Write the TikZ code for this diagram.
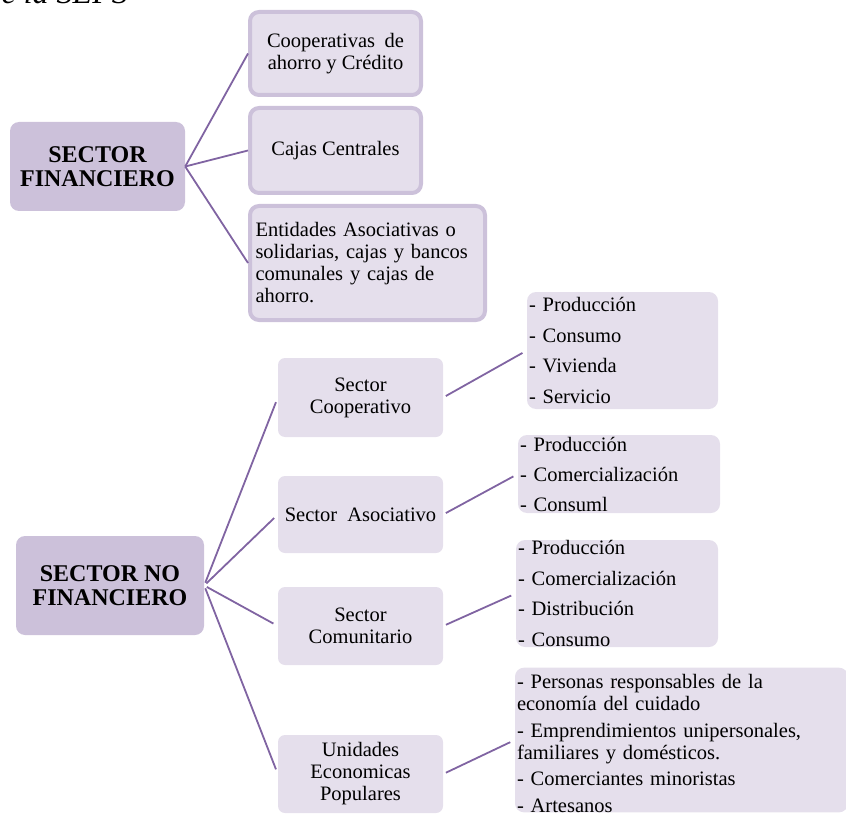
\documentclass[tikz,border=0pt]{standalone}
\usepackage{fontspec}
\setmainfont{Liberation Serif}
\usetikzlibrary{positioning}

\definecolor{darkfill}{RGB}{204,193,218}
\definecolor{lightfill}{RGB}{229,223,236}
\definecolor{linkcol}{RGB}{128,100,162}

\begin{document}
\begin{tikzpicture}[
    x=1pt, y=-1pt, % pixel-like coordinates, y downwards
    basefont/.style={font=\fontsize{20.5}{22}\selectfont},
    sectorbox/.style={fill=darkfill, rounded corners=9pt, inner sep=0pt, align=center,
        font=\fontsize{24}{24}\selectfont\bfseries}, % Big left boxes
    framedbox/.style={basefont, fill=lightfill, draw=darkfill, line width=4pt,
        rounded corners=9pt, inner sep=0pt, align=center}, % Boxes with border
    midbox/.style={basefont, fill=lightfill, rounded corners=7pt, inner sep=0pt, align=center},
    listbox/.style={basefont, fill=lightfill, rounded corners=9pt, inner xsep=2pt,
        inner ysep=0pt, align=left}, % Lists on the right
    link/.style={draw=linkcol, line width=1.8pt}, % Connectors
    shortlink/.style={link, shorten <=3pt, shorten >=5pt}
]
    \useasboundingbox (0,0) rectangle (846,821);

    % Caption cut off at the top
    \node[anchor=base east, inner sep=0pt, font=\fontsize{32}{32}\selectfont\itshape]
        (caption) at (128,4) {de la SEPS};

    % Sector financiero
    \node[sectorbox, minimum width=175, minimum height=89] (fin) at (97.5,166.5)
        {SECTOR\\FINANCIERO};

    \node[framedbox, minimum width=171, minimum height=83] (coop) at (335.5,53.5)
        {\makebox[137pt][s]{Cooperativas de}\\ahorro y Crédito};
    \node[framedbox, minimum width=171, minimum height=85] (cajas) at (335.5,150.5)
        {Cajas Centrales};
    \node[framedbox, minimum width=235, minimum height=114, text width=224pt, align=left]
        (ent) at (367.5,263)
        {\makebox[224pt][s]{Entidades Asociativas o}\\
         \makebox[224pt][s]{solidarias, cajas y bancos}\\
         \makebox[224pt][s]{comunales y cajas de}\\
         ahorro.};

    \draw[link] (fin.east) -- (coop.west);
    \draw[link] (fin.east) -- (cajas.west);
    \draw[link] (fin.east) -- (ent.west);

    % Sector no financiero
    \node[sectorbox, minimum width=188, minimum height=99] (nofin) at (110,585.5)
        {SECTOR NO\\FINANCIERO};

    \node[midbox, minimum width=165, minimum height=79] (scoop) at (360.5,397.5)
        {Sector\\Cooperativo};
    \node[midbox, minimum width=165, minimum height=77] (sasoc) at (360.5,514.5)
        {Sector\ \ Asociativo};
    \node[midbox, minimum width=165, minimum height=78] (scom) at (360.5,626)
        {Sector\\Comunitario};
    \node[midbox, minimum width=165, minimum height=78] (sunid) at (360.5,774)
        {Unidades\\Economicas\\Populares};

    \node[listbox, text width=187pt, minimum height=117] (lcoop) at (622.5,350.5)
        {- Producción\\[8.5pt] - Consumo\\[8.5pt] - Vivienda\\[8.5pt] - Servicio};
    \node[listbox, text width=198pt, minimum height=78] (lasoc) at (619,474)
        {- Producción\\[8pt] - Comercialización\\[8pt] - Consuml};
    \node[listbox, text width=198pt, minimum height=107] (lcom) at (617,593.5)
        {- Producción\\[8.5pt] - Comercialización\\[8.5pt] - Distribución\\[8.5pt] - Consumo};
    \node[listbox, text width=329pt, minimum height=144] (lunid) at (681.5,740)
        {\rule{0pt}{21pt}- Personas\ responsables de la\\ economía del cuidado\\[4.5pt]
         - Emprendimientos\ unipersonales,\\ familiares y domésticos.\\[4.5pt]
         - Comerciantes\ minoristas\\[4.5pt] - Artesanos};

    \foreach \s in {scoop, sasoc, scom, sunid}
        \draw[shortlink] (nofin.east) -- (\s.west);

    \draw[shortlink] (scoop.east) -- (lcoop.west);
    \draw[shortlink] (sasoc.east) -- (lasoc.west);
    \draw[shortlink] (scom.east) -- (lcom.west);
    \draw[shortlink] (sunid.east) -- (lunid.west);

\end{tikzpicture}
\end{document}
